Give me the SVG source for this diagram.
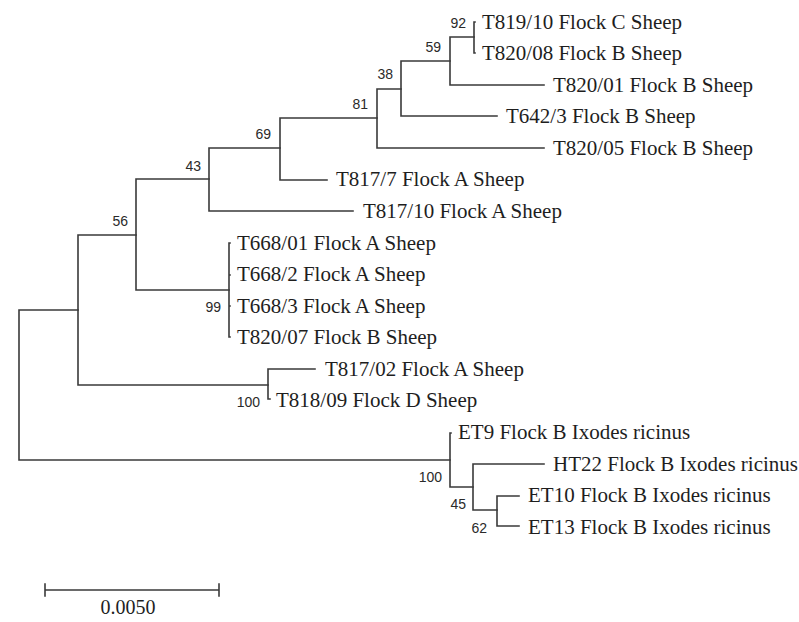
<svg xmlns="http://www.w3.org/2000/svg" width="799" height="622" viewBox="0 0 799 622">
<style>
.br{fill:none;stroke:#3a3a3a;stroke-width:1.6;stroke-linecap:square}
.lf{font-family:"Liberation Serif","Times New Roman",serif;font-size:21px;fill:#1e1e1e}
.bs{font-family:"Liberation Sans",Arial,sans-serif;font-size:14px;fill:#2a2a2a;text-anchor:end}
.sc{font-family:"Liberation Serif","Times New Roman",serif;font-size:20px;fill:#1e1e1e;text-anchor:middle}
</style>
<rect width="799" height="622" fill="#ffffff"/>
<g id="connectors">
<path class="br" d="M19,310 V460 M19,310 H78 M19,460 H450"/>
<path class="br" d="M78,235 V385 M78,235 H136 M78,385 H268"/>
<path class="br" d="M136,179 V290 M136,179 H209 M136,290 H229"/>
<path class="br" d="M209,148 V211 M209,148 H280 M209,211 H353"/>
<path class="br" d="M280,118 V180 M280,118 H377 M280,180 H327"/>
<path class="br" d="M377,89 V148 M377,89 H401 M377,148 H544"/>
<path class="br" d="M401,61 V116 M401,61 H450 M401,116 H497"/>
<path class="br" d="M450,37 V85 M450,37 H474 M450,85 H544"/>
<path class="br" d="M474,22 V53 M474,22 H475 M474,53 H475"/>
<path class="br" d="M229,243 V337 M229,243 H230 M229,275 H230 M229,306 H230 M229,337 H230"/>
<path class="br" d="M268,369 V399 M268,369 H315 M268,399 H270"/>
<path class="br" d="M450,433 V487 M450,433 H451 M450,487 H473"/>
<path class="br" d="M473,464 V510 M473,464 H544 M473,510 H497"/>
<path class="br" d="M497,496 V526 M497,496 H519 M497,526 H519"/>
</g>
<g id="bootstrap">
<text class="bs" x="466" y="28">92</text>
<text class="bs" x="441" y="52">59</text>
<text class="bs" x="393" y="79">38</text>
<text class="bs" x="368" y="109">81</text>
<text class="bs" x="271" y="139">69</text>
<text class="bs" x="201" y="171">43</text>
<text class="bs" x="128" y="226">56</text>
<text class="bs" x="221" y="312">99</text>
<text class="bs" x="260" y="407">100</text>
<text class="bs" x="442" y="482">100</text>
<text class="bs" x="466" y="509">45</text>
<text class="bs" x="487" y="533">62</text>
</g>
<g id="leaf-T819-10"><text class="lf" x="482" y="29">T819/10 Flock C Sheep</text></g>
<g id="leaf-T820-08"><text class="lf" x="482" y="60">T820/08 Flock B Sheep</text></g>
<g id="leaf-T820-01"><text class="lf" x="553" y="92">T820/01 Flock B Sheep</text></g>
<g id="leaf-T642-3"><text class="lf" x="506" y="123">T642/3 Flock B Sheep</text></g>
<g id="leaf-T820-05"><text class="lf" x="553" y="155">T820/05 Flock B Sheep</text></g>
<g id="leaf-T817-7"><text class="lf" x="336" y="186">T817/7 Flock A Sheep</text></g>
<g id="leaf-T817-10"><text class="lf" x="363" y="218">T817/10 Flock A Sheep</text></g>
<g id="leaf-T668-01"><text class="lf" x="237" y="250">T668/01 Flock A Sheep</text></g>
<g id="leaf-T668-2"><text class="lf" x="237" y="281">T668/2 Flock A Sheep</text></g>
<g id="leaf-T668-3"><text class="lf" x="237" y="313">T668/3 Flock A Sheep</text></g>
<g id="leaf-T820-07"><text class="lf" x="237" y="344">T820/07 Flock B Sheep</text></g>
<g id="leaf-T817-02"><text class="lf" x="325" y="376">T817/02 Flock A Sheep</text></g>
<g id="leaf-T818-09"><text class="lf" x="276" y="407">T818/09 Flock D Sheep</text></g>
<g id="leaf-ET9"><text class="lf" x="458" y="439">ET9 Flock B Ixodes ricinus</text></g>
<g id="leaf-HT22"><text class="lf" x="553" y="471">HT22 Flock B Ixodes ricinus</text></g>
<g id="leaf-ET10"><text class="lf" x="528" y="502">ET10 Flock B Ixodes ricinus</text></g>
<g id="leaf-ET13"><text class="lf" x="528" y="534">ET13 Flock B Ixodes ricinus</text></g>
<g id="scale-bar">
<path class="br" d="M45,590 H219 M45,584 V596 M219,584 V596"/>
<text class="sc" x="128" y="614">0.0050</text>
</g>
</svg>
